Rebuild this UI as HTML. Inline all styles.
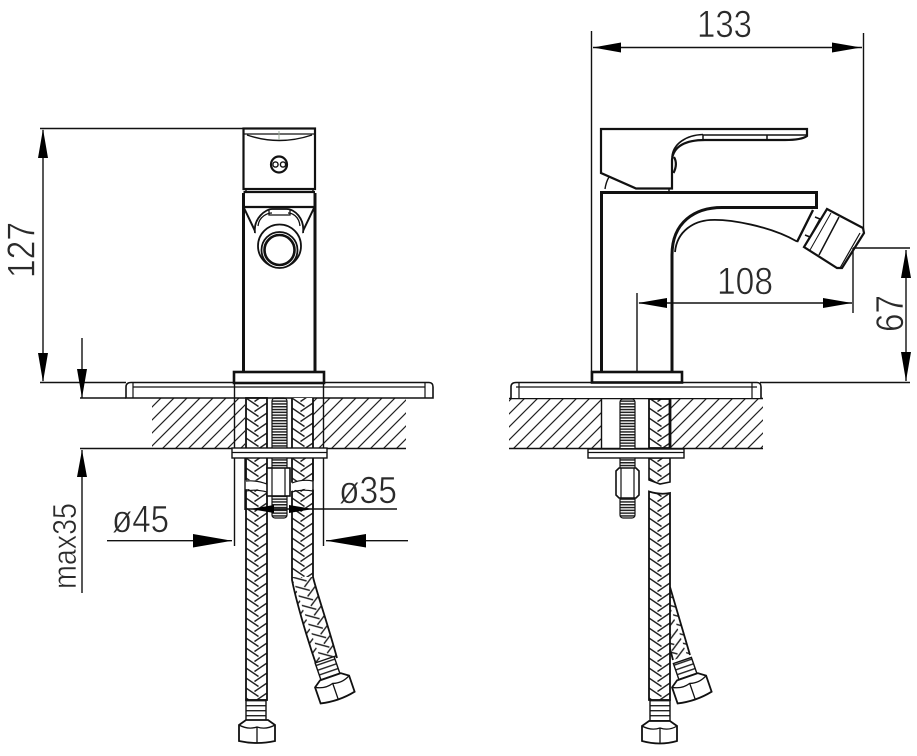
<!DOCTYPE html>
<html><head><meta charset="utf-8"><style>
html,body{margin:0;padding:0;background:#fff}
svg{display:block}
text{font-family:"Liberation Sans",sans-serif;fill:#2a2a2a;stroke:#fff;stroke-width:.6px}
</style></head><body>
<svg width="917" height="756" viewBox="0 0 917 756" xmlns="http://www.w3.org/2000/svg">
<defs>
<pattern id="hatch" patternUnits="userSpaceOnUse" width="13" height="13">
<path d="M-2 15L15 -2M-2 2L2 -2M11 15L15 11" stroke="#222" stroke-width="1.2" fill="none"/></pattern>
<pattern id="br1" patternUnits="userSpaceOnUse" width="21" height="10" patternTransform="translate(246 398)">
<rect width="21" height="10" fill="#fff"/>
<path d="M0 -10L12.5 -1.5M0 0L12.5 8.5M0 10L12.5 18.5M21 -5L8.5 3.5M21 5L8.5 13.5M21 -15L8.5 -6.5" stroke="#222" stroke-width="1.4" fill="none"/></pattern>
<pattern id="br2" href="#br1" patternTransform="translate(292 398)"/>
<pattern id="br3" href="#br1" patternTransform="translate(649 398)"/>
<pattern id="br4" href="#br1" patternTransform="translate(292 577) rotate(-19)"/>
<pattern id="br5" href="#br1" patternTransform="translate(660 577) rotate(-19)"/>
<pattern id="thr" patternUnits="userSpaceOnUse" width="15" height="2.8">
<rect width="15" height="2.8" fill="#fff"/><rect width="15" height="1.5" fill="#222"/></pattern>
<pattern id="rib" patternUnits="userSpaceOnUse" width="21" height="5">
<rect width="21" height="5" fill="#fff"/><rect width="21" height="1.4" fill="#222"/></pattern>
</defs>
<rect width="917" height="756" fill="#fff"/>

<!-- ========== LEFT VIEW ========== -->
<g fill="none" stroke="#111">
<rect x="152" y="398" width="93" height="50" fill="url(#hatch)" stroke="none"/>
<rect x="313" y="398" width="93" height="50" fill="url(#hatch)" stroke="none"/>
<path d="M80 448.5H406M80 398H126M40 128.5H243M40 382.5H126" stroke-width="1.4"/>
<path d="M126 398V387Q126 382.5 131 382.5H429Q433 382.5 433 387V398H126Z" fill="#fff" stroke-width="1.6"/>
<path d="M133 382.5V398M425 382.5V398M133 387H425" stroke-width="1.2"/>
<rect x="246" y="398" width="21" height="302" fill="url(#br1)" stroke-width="1.8"/>
<path d="M292 398H313V577C316 590 328 625 337 657L315 664C306 635 296 600 292 577Z" fill="url(#br2)" stroke="none"/>
<path d="M300 577H313C316 590 328 625 337 657L315 664C306 635 296 600 292 577Z" fill="url(#br4)" stroke="none"/>
<path d="M292 398V580C296 600 306 635 316 664M313 398V577C316 590 328 625 337 658" stroke-width="1.8"/>
<path d="M241 481Q255 478 268 484V492Q255 487 241 490ZM288 484Q302 478 316 481V490Q302 487 288 492Z" fill="#fff" stroke="none"/>
<path d="M246 481Q256 480 267 484M246 491Q256 489 267 492M292 483Q302 479 313 481M292 492Q302 489 313 491" stroke-width="1.2"/>
<rect x="272" y="398" width="15" height="120" rx="3" fill="url(#thr)" stroke-width="1.2"/>
<rect x="234" y="372" width="90" height="11" fill="#fff" stroke-width="2.6"/>
<path d="M234.5 383V546M323.5 383V546M245 448V510M313 448V510" stroke-width="1.4"/>
<rect x="232" y="448" width="95" height="10" fill="#fff" stroke-width="1.4"/>
<path d="M232 452.5H327" stroke-width="1.2"/>
<rect x="267" y="468" width="23" height="28" fill="#fff" stroke-width="1.6"/>
<path d="M272 468V496M285 468V496" stroke-width="1.2"/>
<!-- body -->
<path d="M243.5 372V193M315 193V372" stroke-width="3"/>
<path d="M243.5 192H315M243.5 207H315" stroke-width="2.2"/>
<path d="M244 208L256 233M314 208L302 233" stroke-width="2"/>
<path d="M255 233C253 218 266 209 272 209H287C294 209 305 218 303 233" fill="#fff" stroke-width="1.8"/>
<path d="M269 209V215H290V209M258 226C259 216 268 213 272 213M300 226C299 216 292 213 288 213" stroke-width="1.3"/>
<circle cx="279.5" cy="246" r="21.5" fill="#fff" stroke-width="1.8"/>
<circle cx="279.5" cy="250" r="18" fill="#fff" stroke-width="1.8"/>
<circle cx="279.5" cy="250" r="15" fill="#fff" stroke-width="2.6"/>
<!-- handle -->
<rect x="243.5" y="128.5" width="71.5" height="60.5" fill="#fff" stroke-width="2.2"/>
<path d="M244 134H315" stroke-width="1.2"/>
<path d="M247 135Q279 146 312 135" stroke-width="1.4"/>
<path d="M279 131V140" stroke="#9a9" stroke-width="1"/>
<path d="M246 189L246 192M313 189V192" stroke-width="1.4"/>
<circle cx="279" cy="164.5" r="8" fill="#fff" stroke-width="2.2"/>
<circle cx="275.5" cy="164.5" r="2.6" stroke-width="1.4"/>
<circle cx="283" cy="164.5" r="2.6" stroke-width="1.4"/>
</g>

<!-- left lower connectors -->
<g fill="none" stroke="#111">
<rect x="246" y="700" width="20" height="21" fill="url(#rib)" stroke-width="1.4"/>
<path d="M239 725L246 720H268L275 725V741Q257 745 239 741Z" fill="#fff" stroke-width="1.8"/>
<path d="M239 725Q248 730 257 727Q266 730 275 725M257 727V743" stroke-width="1.3"/>
<g transform="translate(335 690) rotate(-19)">
<rect x="-10" y="-32" width="20" height="21" fill="url(#rib)" stroke-width="1.4"/>
<path d="M-18 -9L-11 -14H11L18 -9V8Q0 12 -18 8Z" fill="#fff" stroke-width="1.8"/>
<path d="M-18 -9Q-9 -4 0 -7Q9 -4 18 -9M0 -7V10" stroke-width="1.3"/>
</g>
</g>

<!-- left dims -->
<g fill="none" stroke="#111" stroke-width="1.4">
<path d="M43 130V381M82 338V398M82 450V593"/>
<path d="M107 540.7H232M326 540.7H408M245 509H397"/>
</g>
<g fill="#000" stroke="none">
<path d="M43 129L48 158H38ZM43 382L38 353H48Z"/>
<path d="M82 398L77 369H87ZM82 450L87 477H77Z"/>
<path d="M232 540.7L193 534V547.5ZM326 540.7L366 534V547.5Z"/>
<path d="M250 509L274 505V513ZM313 509L289 505V513Z"/>
</g>
<text x="34.5" y="278" transform="rotate(-90 34.5 278)" font-size="39" textLength="56" lengthAdjust="spacingAndGlyphs">127</text>
<text x="76" y="589" transform="rotate(-90 76 589)" font-size="33" textLength="86" lengthAdjust="spacingAndGlyphs">max35</text>
<text x="112" y="532" font-size="38" textLength="57" lengthAdjust="spacingAndGlyphs">ø45</text>
<text x="339" y="503" font-size="38" textLength="58" lengthAdjust="spacingAndGlyphs">ø35</text>

<!-- ========== RIGHT VIEW ========== -->
<g fill="none" stroke="#111">
<rect x="509" y="399" width="92" height="49" fill="url(#hatch)" stroke="none"/>
<rect x="670" y="399" width="93" height="49" fill="url(#hatch)" stroke="none"/>
<path d="M509 398.5H763M509 448.5H763" stroke-width="1.6"/>
<path d="M601.5 399V448" stroke-width="1.4"/>
<path d="M511 398V387Q511 382.5 516 382.5H757Q761 382.5 761 387V398" fill="#fff" stroke-width="1.6"/>
<path d="M519 382.5V398M752 382.5V398M516 387H757" stroke-width="1.2"/>
<path d="M760 382.5H910" stroke-width="1.4"/>
<!-- back hose -->
<path d="M670 587L690 655L673 660L667 640Z" fill="url(#br5)" stroke="none"/>
<path d="M670 587L690 655M673 660L669 645" stroke-width="1.8"/>
<!-- hose -->
<rect x="649" y="399" width="21" height="49" fill="url(#br3)" stroke-width="1.8"/>
<path d="M670 399V448" stroke-width="2.8"/>
<path d="M649 458V480L660 484L670 482V458H649Z" fill="url(#br3)" stroke-width="1.6"/>
<path d="M649 491.5Q660 495 670 493V700H649Z" fill="url(#br3)" stroke-width="1.8"/>
<!-- bolt -->
<rect x="620" y="399" width="15" height="119" rx="3" fill="url(#thr)" stroke-width="1.2"/>
<rect x="588" y="449" width="96" height="9" fill="#fff" stroke-width="1.4"/>
<path d="M588 452.5H684" stroke-width="1.2"/>
<path d="M616 471L619 468H636L639 471V495L636 498H619L616 495Z" fill="#fff" stroke-width="1.6"/>
<path d="M621 468V498M634 468V498" stroke-width="1.2"/>
<!-- right connectors -->
<rect x="650" y="700" width="20" height="22" fill="url(#rib)" stroke-width="1.4"/>
<path d="M642 726L649 721H670L677 726V741Q660 746 642 741Z" fill="#fff" stroke-width="1.8"/>
<path d="M642 726Q651 731 660 728Q669 731 677 726M660 728V744" stroke-width="1.3"/>
<g transform="translate(692 690) rotate(-19)">
<rect x="-9" y="-31" width="19" height="20" fill="url(#rib)" stroke-width="1.4"/>
<path d="M-18 -9L-11 -14H11L18 -9V8Q0 12 -18 8Z" fill="#fff" stroke-width="1.8"/>
<path d="M-18 -9Q-9 -4 0 -7Q9 -4 18 -9M0 -7V10" stroke-width="1.3"/>
</g>
<!-- faucet -->
<path d="M601.5 372V192.5H816.5V207.5H722C695 207.5 672 222 672 255V372" fill="#fff" stroke-width="3"/>
<path d="M797 241.5C770 226 730 219 710 220C695 221 677 230 675 252" stroke-width="1.8"/>
<path d="M813 210L797 242" stroke-width="2.4"/>
<path d="M815 217L820 219L810 237L805 235" stroke-width="1.6"/>
<rect x="592" y="372" width="90" height="10.5" fill="#fff" stroke-width="2.6"/>
<path d="M637 293V372" stroke-width="1.4"/>
<!-- handle -->
<path d="M601 129H807V136C803 139 795 140 785 140H705C686 140 673 146 672 160V188.5H636L601 173Z" fill="#fff" stroke-width="2.2"/>
<path d="M703 135H806M703 134.5V140M767 135V140" stroke-width="1.5"/>
<path d="M672 157C673 144 686 135 703 134.5" stroke-width="1.6"/>
<path d="M674 157Q678 164 673.5 173" stroke-width="2.2"/>
<path d="M605 189Q606 182 609 177M669 189V192" stroke-width="1.4"/>
<!-- aerator -->
<path d="M827 209L863 228L864 233L842 268L837 268L804 247Z" fill="#fff" stroke-width="2.2"/>
<path d="M839 217L819 255" stroke-width="1.5"/>
<path d="M831 213L810 250" stroke-width="1"/>
<path d="M860 233L840 268" stroke-width="1.2"/>
<!-- dim lines -->
<path d="M591.5 31V382M863.5 33V231M593 47.5H862M639 303H852M853 248V313M853 248H910M906 250V381" stroke-width="1.4"/>
</g>
<g fill="#000" stroke="none">
<path d="M593 47.5L621 42.5V52.5ZM861 47.5L832 42.5V52.5Z"/>
<path d="M638 303L667 298V308ZM852 303L823 298V308Z"/>
<path d="M906 250L911 278H901ZM906 381L901 352H911Z"/>
</g>
<text x="697" y="37" font-size="38" textLength="55" lengthAdjust="spacingAndGlyphs">133</text>
<text x="717" y="294" font-size="38" textLength="56" lengthAdjust="spacingAndGlyphs">108</text>
<text x="903" y="332" transform="rotate(-90 903 332)" font-size="39" textLength="37" lengthAdjust="spacingAndGlyphs">67</text>
</svg>
</body></html>
